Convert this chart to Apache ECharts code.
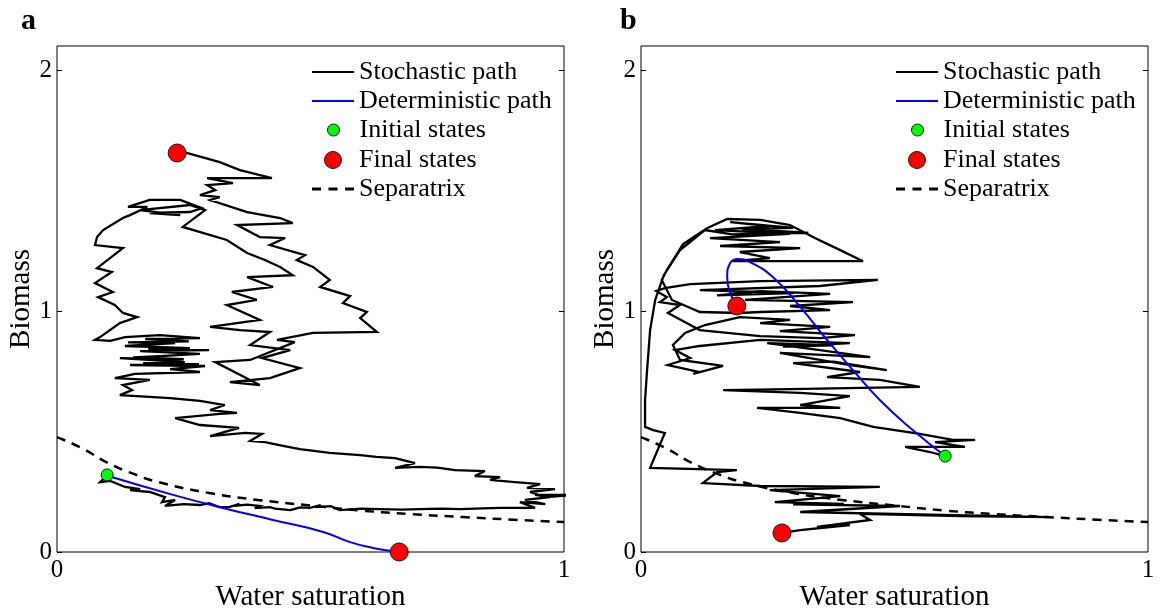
<!DOCTYPE html>
<html>
<head>
<meta charset="utf-8">
<script src="https://cdn.jsdelivr.net/npm/echarts@6/dist/echarts.min.js"></script>
<style>
html, body { margin: 0; padding: 0; background: #fff; }
#chart { width: 1163px; height: 612px; }
</style>
</head>
<body>
<div id="chart"></div>
<script>
// panel labels, ticks and legend entries
const panels = ['a', 'b'];
const xTicks = [0, 1];
const yTicks = [0, 1, 2];
const legendNames = ['Stochastic path', 'Deterministic path', 'Initial states', 'Final states', 'Separatrix'];

// separatrix curve, same in both panels
const separatrix = [[0, 0.477], [0.05, 0.43], [0.1, 0.37], [0.15, 0.325], [0.2, 0.29], [0.3, 0.245], [0.4, 0.215],
  [0.5, 0.193], [0.6, 0.172], [0.7, 0.157], [0.8, 0.145], [0.9, 0.134], [1, 0.124]];

// panel a
const stochasticA = [
  [0.099,0.320],[0.085,0.290],[0.105,0.295],[0.134,0.270],[0.164,0.261],[0.144,0.257],[0.183,0.249],[0.213,0.228],[0.207,0.207],[0.233,0.216],[0.213,0.191],[0.250,0.199],[0.282,0.195],[0.300,0.203],[0.320,0.186],[0.341,0.187],[0.360,0.200],[0.350,0.192],[0.375,0.197],[0.400,0.191],[0.390,0.182],[0.420,0.186],[0.430,0.180],[0.460,0.174],[0.480,0.185],[0.499,0.183],[0.520,0.195],[0.510,0.186],[0.540,0.190],[0.558,0.174],[0.600,0.180],[0.637,0.178],[0.680,0.176],[0.716,0.178],[0.760,0.180],[0.795,0.178],[0.840,0.181],[0.874,0.183],[0.943,0.183],[0.913,0.207],[0.963,0.199],[0.923,0.216],[0.972,0.228],[0.943,0.237],[1.020,0.237],[0.963,0.228],[0.933,0.249],[0.982,0.261],[0.927,0.266],[0.953,0.282],[0.903,0.290],[0.854,0.299],[0.874,0.311],[0.824,0.315],[0.844,0.336],[0.785,0.340],[0.750,0.350],[0.716,0.353],[0.667,0.349],[0.706,0.369],[0.667,0.390],[0.630,0.395],[0.598,0.402],[0.538,0.411],[0.479,0.427],[0.446,0.440],[0.410,0.456],[0.381,0.461],[0.404,0.490],[0.371,0.494],[0.302,0.481],[0.359,0.515],[0.282,0.527],[0.233,0.556],[0.321,0.573],[0.355,0.577],[0.302,0.589],[0.331,0.610],[0.282,0.627],[0.223,0.639],[0.124,0.651],[0.148,0.672],[0.130,0.693],[0.183,0.714],
  [0.114,0.722],[0.154,0.739],[0.282,0.747],[0.223,0.759],[0.292,0.772],[0.144,0.776],[0.280,0.780],[0.170,0.784],[0.252,0.788],[0.124,0.805],[0.250,0.800],[0.150,0.808],[0.203,0.813],[0.282,0.822],[0.164,0.834],[0.300,0.838],[0.180,0.842],[0.262,0.846],[0.134,0.855],[0.233,0.867],[0.140,0.870],[0.260,0.874],[0.174,0.884],[0.282,0.888],[0.203,0.900],[0.134,0.892],[0.105,0.876],[0.075,0.880],
  [0.085,0.892],[0.124,0.950],[0.158,0.975],[0.130,0.992],[0.114,1.025],[0.081,1.058],[0.110,1.079],[0.075,1.116],[0.108,1.162],[0.079,1.178],[0.130,1.261],[0.075,1.274],[0.079,1.307],[0.091,1.336],[0.130,1.386],[0.144,1.398],[0.178,1.432],[0.140,1.432],[0.183,1.461],[0.243,1.461],[0.286,1.427],[0.262,1.411],[0.183,1.407],[0.243,1.398],[0.164,1.419],[0.262,1.440],[0.292,1.419],[0.248,1.349],
  [0.335,1.295],[0.375,1.241],[0.410,1.212],[0.440,1.183],[0.465,1.149],[0.375,1.141],[0.426,1.100],[0.345,1.079],[0.394,1.046],[0.335,1.025],[0.400,0.963],[0.302,0.934],[0.361,0.921],[0.420,0.913],
  [0.381,0.859],[0.460,0.838],[0.404,0.805],[0.479,0.763],[0.420,0.722],[0.341,0.705],[0.400,0.693],[0.312,0.788],[0.381,0.797],[0.469,0.871],[0.434,0.880],[0.505,0.909],[0.631,0.913],
  [0.598,0.971],[0.611,0.996],[0.564,1.033],[0.578,1.062],[0.519,1.100],[0.538,1.129],[0.505,1.183],[0.473,1.212],[0.489,1.232],[0.420,1.274],[0.450,1.303],[0.400,1.307],[0.355,1.357],[0.465,1.365],[0.440,1.386],[0.375,1.411],[0.302,1.461],
  [0.321,1.473],[0.282,1.481],[0.312,1.502],[0.296,1.523],[0.347,1.531],[0.296,1.552],[0.424,1.552],[0.361,1.585],[0.321,1.618],[0.256,1.656],[0.237,1.656]
];
const deterministicA = [[0.099,0.320],[0.108,0.311],[0.229,0.237],[0.327,0.183],[0.426,0.133],[0.525,0.083],[0.578,0.041],[0.623,0.017],[0.675,0]];
const initialA = [[0.099, 0.320]];
const finalA = [[0.237, 1.656], [0.675, 0]];

// panel b
const stochasticB = [
  [0.600,0.398],[0.570,0.415],[0.521,0.436],[0.639,0.436],[0.580,0.456],[0.659,0.465],[0.615,0.465],
  [0.550,0.490],[0.458,0.519],[0.393,0.556],[0.314,0.577],[0.229,0.598],[0.393,0.598],[0.314,0.610],[0.412,0.647],[0.314,0.660],[0.162,0.672],[0.294,0.676],[0.550,0.685],
  [0.471,0.714],[0.367,0.726],[0.432,0.747],[0.300,0.784],[0.380,0.790],[0.485,0.755],[0.412,0.776],[0.274,0.826],[0.452,0.809],[0.353,0.838],[0.249,0.867],[0.380,0.858],[0.280,0.852],[0.412,0.867],[0.235,0.880],[0.116,0.855],
  [0.067,0.838],[0.097,0.805],[0.053,0.776],[0.116,0.747],[0.103,0.739],[0.162,0.772],[0.077,0.797],[0.063,0.859],[0.087,0.909],[0.126,0.942],[0.195,0.975],[0.294,0.963],[0.235,0.950],[0.373,0.934],[0.274,0.917],[0.422,0.900],[0.353,0.888],[0.235,0.896],[0.116,0.921],[0.053,0.992],
  [0.077,1.025],[0.037,1.037],[0.051,1.058],[0.030,1.083],[0.047,1.095],[0.097,1.112],[0.235,1.124],[0.467,1.129],[0.353,1.104],[0.116,1.087],[0.300,1.075],[0.150,1.065],[0.235,1.083],[0.373,1.071],[0.205,1.046],[0.418,1.037],[0.294,1.021],[0.373,1.004],[0.235,0.996],[0.195,0.992],[0.116,0.996],[0.061,1.046],[0.041,1.129],
  [0.051,1.170],[0.083,1.278],[0.130,1.344],[0.170,1.382],[0.235,1.378],[0.294,1.357],[0.343,1.303],[0.393,1.253],[0.438,1.207],[0.314,1.207],[0.181,1.207],[0.254,1.220],[0.195,1.245],[0.314,1.261],[0.156,1.270],[0.274,1.286],[0.136,1.303],[0.294,1.320],[0.146,1.336],[0.254,1.353],[0.176,1.369],[0.300,1.345],[0.200,1.340],[0.330,1.325],[0.180,1.318],[0.126,1.336],[0.077,1.253],[0.045,1.149],[0.028,1.046],[0.018,0.921],[0.012,0.755],[0.008,0.631],[0.008,0.519],[0.024,0.506],[0.047,0.494],[0.018,0.349],
  [0.189,0.340],[0.150,0.332],[0.122,0.286],[0.235,0.274],[0.471,0.270],[0.254,0.257],[0.393,0.232],[0.264,0.207],[0.400,0.200],[0.300,0.198],[0.511,0.191],[0.314,0.166],[0.807,0.145],[0.629,0.149],[0.432,0.158],[0.452,0.133],[0.347,0.104],[0.412,0.112],[0.314,0.091],[0.278,0.079]
];
const deterministicB = [[0.600,0.398],[0.536,0.506],[0.471,0.631],[0.418,0.755],[0.367,0.880],[0.314,1.017],[0.260,1.141],[0.215,1.203],[0.191,1.216],[0.176,1.199],[0.170,1.141],[0.174,1.087],[0.189,1.021]];
const initialB = [[0.600, 0.398]];
const finalB = [[0.189, 1.021], [0.278, 0.079]];

const stochastic = [stochasticA, stochasticB];
const deterministic = [deterministicA, deterministicB];
const initial = [initialA, initialB];
const finals = [finalA, finalB];

// layout
const serif = '"Liberation Serif", "Times New Roman", serif';
const gridLeft = [57, 641];
const legendLeft = [312, 896];
const legendShift = [0, 0, 15, 12, 0];
const rowCenter = [72, 101, 130, 160, 189];
const icons = ['rect', 'rect', 'circle', 'circle', 'path://M0 0h9v3h-9zM16.5 0h9v3h-9zM33 0h9v3h-9z'];
const iconHeight = [2, 2, 12, 17, 3];
const iconStyle = [
  { color: '#000', borderWidth: 0 },
  { color: '#0000ff', borderWidth: 0 },
  { color: '#00ff00', borderColor: '#1a1a1a', borderWidth: 1 },
  { color: '#ff0000', borderColor: '#1a1a1a', borderWidth: 1 },
  { color: '#000', borderWidth: 0 }
];

const chart = echarts.init(document.getElementById('chart'), null, { renderer: 'canvas' });

const option = {
  animation: false,
  backgroundColor: '#fff',
  graphic: panels.map((p, i) => ({
    type: 'text', left: [21, 620][i], top: 6,
    style: { text: p, font: 'bold 30px ' + serif, fill: '#000' }
  })),
  grid: panels.map((p, i) => ({
    left: gridLeft[i], top: 46, width: 507, height: 506,
    show: true, borderColor: '#000', borderWidth: 1, outerBoundsMode: 'none'
  })),
  xAxis: panels.map((p, i) => ({
    gridIndex: i, type: 'value', min: 0, max: 1, interval: 1,
    name: 'Water saturation', nameLocation: 'middle', nameGap: 31, nameMoveOverlap: false,
    nameTextStyle: { fontFamily: serif, fontSize: 29, color: '#000' },
    axisLine: { show: false },
    axisTick: { show: false },
    axisLabel: { fontFamily: serif, fontSize: 25, color: '#000', margin: 6, customValues: xTicks },
    splitLine: { show: false }
  })),
  yAxis: panels.flatMap((p, i) => [
    {
      gridIndex: i, type: 'value', min: 0, max: 2.1,
      name: 'Biomass', nameLocation: 'middle', nameGap: 21, nameMoveOverlap: false,
      nameTextStyle: { fontFamily: serif, fontSize: 29, color: '#000' },
      axisLine: { show: false },
      axisTick: { show: true, inside: true, length: 5, customValues: yTicks, lineStyle: { color: '#000' } },
      axisLabel: { fontFamily: serif, fontSize: 25, color: '#000', margin: 5, customValues: yTicks },
      splitLine: { show: false }
    },
    {
      gridIndex: i, type: 'value', min: 0, max: 2.1, position: 'right',
      axisLine: { show: false },
      axisTick: { show: true, inside: true, length: 5, customValues: [1, 2], lineStyle: { color: '#000' } },
      axisLabel: { show: false },
      splitLine: { show: false }
    }
  ]),
  legend: panels.flatMap((p, i) => legendNames.map((name, r) => ({
    left: legendLeft[i] + legendShift[r], top: rowCenter[r] - 13, padding: 0, itemGap: 0, selectedMode: false,
    itemWidth: 42, itemHeight: iconHeight[r],
    data: [{ name: name, icon: icons[r], itemStyle: iconStyle[r] }],
    textStyle: { fontFamily: serif, fontSize: 26, color: '#000', lineHeight: 26 }
  }))),
  series: panels.flatMap((p, i) => [
    {
      name: 'Stochastic path', type: 'line', xAxisIndex: i, yAxisIndex: 2 * i,
      data: stochastic[i], symbol: 'none', z: 2,
      lineStyle: { color: '#000', width: 2.3, join: 'miter', miterLimit: 4 }
    },
    {
      name: 'Separatrix', type: 'line', xAxisIndex: i, yAxisIndex: 2 * i,
      data: separatrix, symbol: 'none', smooth: true, z: 3,
      lineStyle: { color: '#000', width: 2.5, type: [9, 7] }
    },
    {
      name: 'Deterministic path', type: 'line', xAxisIndex: i, yAxisIndex: 2 * i,
      data: deterministic[i], symbol: 'none', smooth: true, z: 4,
      lineStyle: { color: '#0000ff', width: 2 }
    },
    {
      name: 'Initial states', type: 'scatter', xAxisIndex: i, yAxisIndex: 2 * i,
      data: initial[i], symbolSize: 12, clip: false, z: 5,
      itemStyle: { color: '#00ff00', borderColor: '#1a1a1a', borderWidth: 1, opacity: 1 }
    },
    {
      name: 'Final states', type: 'scatter', xAxisIndex: i, yAxisIndex: 2 * i,
      data: finals[i], symbolSize: 18, clip: false, z: 5,
      itemStyle: { color: '#ff0000', borderColor: '#1a1a1a', borderWidth: 1, opacity: 1 }
    }
  ])
};

chart.setOption(option);
</script>
</body>
</html>
